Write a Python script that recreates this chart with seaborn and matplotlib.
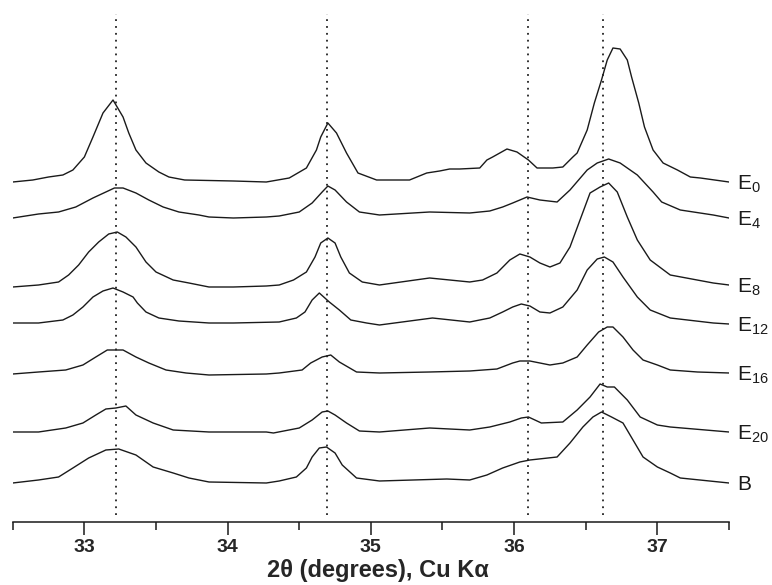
from __future__ import annotations

import matplotlib

matplotlib.use("Agg")
import matplotlib.pyplot as plt
import pandas as pd
import seaborn as sns

# 2-theta positions and intensities (a.u., curves already stacked)
e0_x = [32.50, 32.64, 32.75, 32.85, 32.92, 33.00, 33.06, 33.13, 33.20, 33.27, 33.31, 33.36, 33.43,
        33.52, 33.59, 33.70, 34.04, 34.27, 34.43, 34.55, 34.62, 34.65, 34.70, 34.73, 34.76, 34.83,
        34.91, 35.04, 35.27, 35.39, 35.48, 35.55, 35.62, 35.76, 35.81, 35.85, 35.95, 36.02, 36.10,
        36.16, 36.27, 36.34, 36.41, 36.44, 36.51, 36.56, 36.61, 36.65, 36.69, 36.74, 36.79, 36.82,
        36.87, 36.91, 36.97, 37.04, 37.14, 37.23, 37.30, 37.50]
e0_y = [340, 342, 345, 347, 352, 365, 385, 409, 422, 405, 389, 372, 359,
        350, 345, 342, 341, 340, 344, 354, 372, 385, 399, 394, 389, 369,
        349, 342, 342, 349, 351, 353, 353, 354, 362, 365, 373, 370, 362,
        354, 354, 355, 365, 369, 392, 419, 442, 462, 474, 473, 462, 445,
        419, 395, 372, 359, 352, 345, 344, 340]

e4_x = [32.50, 32.68, 32.82, 32.94, 33.06, 33.15, 33.21, 33.27, 33.36, 33.45, 33.55, 33.66, 33.80,
        33.87, 34.04, 34.27, 34.36, 34.50, 34.59, 34.66, 34.70, 34.75, 34.83, 34.92, 35.06, 35.41,
        35.69, 35.83, 35.92, 35.99, 36.09, 36.18, 36.30, 36.39, 36.51, 36.58, 36.66, 36.74, 36.86,
        36.97, 37.03, 37.16, 37.39, 37.50]
e4_y = [304, 308, 310, 315, 324, 330, 334, 334, 329, 322, 315, 310, 307,
        305, 304, 305, 306, 310, 319, 330, 336, 332, 320, 310, 307, 310,
        309, 311, 315, 319, 325, 322, 320, 332, 352, 359, 363, 359, 347,
        330, 320, 312, 307, 304]

e8_x = [32.50, 32.68, 32.82, 32.89, 32.96, 33.03, 33.10, 33.17, 33.23, 33.29, 33.36, 33.43, 33.50,
        33.62, 33.73, 33.87, 34.04, 34.27, 34.36, 34.46, 34.55, 34.61, 34.65, 34.70, 34.75, 34.79,
        34.85, 34.94, 35.06, 35.41, 35.69, 35.78, 35.88, 35.97, 36.04, 36.11, 36.18, 36.25, 36.32,
        36.39, 36.46, 36.53, 36.60, 36.66, 36.72, 36.79, 36.86, 36.95, 37.09, 37.39, 37.50]
e8_y = [235, 237, 240, 247, 257, 270, 280, 288, 290, 285, 275, 260, 250,
        242, 239, 235, 235, 236, 237, 242, 250, 265, 279, 284, 279, 265,
        249, 240, 237, 244, 240, 242, 249, 262, 268, 265, 259, 255, 259,
        275, 302, 329, 335, 339, 330, 305, 282, 262, 247, 239, 237]

e12_x = [32.50, 32.68, 32.85, 32.92, 32.99, 33.06, 33.13, 33.20, 33.27, 33.34, 33.37, 33.43, 33.52,
         33.66, 33.87, 34.04, 34.36, 34.48, 34.54, 34.59, 34.64, 34.71, 34.78, 34.86, 34.97, 35.06,
         35.43, 35.69, 35.83, 35.92, 35.99, 36.05, 36.11, 36.18, 36.25, 36.34, 36.44, 36.51, 36.58,
         36.63, 36.69, 36.76, 36.86, 36.95, 37.09, 37.39, 37.50]
e12_y = [199, 199, 202, 207, 215, 225, 231, 234, 230, 225, 219, 210, 204,
         201, 199, 199, 200, 204, 210, 222, 229, 220, 212, 202, 199, 197,
         204, 200, 204, 210, 215, 218, 216, 210, 209, 215, 232, 252, 263,
         265, 260, 245, 225, 212, 204, 199, 198]

e16_x = [32.50, 32.68, 32.87, 32.99, 33.08, 33.16, 33.27, 33.36, 33.45, 33.57, 33.71, 33.87, 34.27,
         34.36, 34.52, 34.58, 34.66, 34.72, 34.78, 34.90, 35.06, 35.41, 35.69, 35.88, 35.99, 36.04,
         36.11, 36.18, 36.25, 36.34, 36.44, 36.51, 36.59, 36.65, 36.69, 36.76, 36.83, 36.90, 37.00,
         37.09, 37.28, 37.50]
e16_y = [148, 150, 152, 157, 165, 172, 172, 165, 159, 152, 149, 147, 148,
         149, 152, 159, 165, 167, 160, 150, 149, 150, 151, 153, 159, 161,
         161, 159, 157, 159, 165, 177, 190, 195, 195, 185, 172, 162, 157,
         152, 150, 149]

e20_x = [32.50, 32.68, 32.87, 32.99, 33.08, 33.15, 33.22, 33.29, 33.36, 33.48, 33.62, 33.87, 34.27,
         34.32, 34.50, 34.59, 34.66, 34.70, 34.75, 34.83, 34.92, 35.06, 35.41, 35.69, 35.83, 35.97,
         36.05, 36.10, 36.19, 36.34, 36.44, 36.53, 36.60, 36.65, 36.70, 36.79, 36.88, 37.00, 37.09,
         37.50]
e20_y = [90, 90, 94, 99, 107, 113, 114, 116, 107, 99, 92, 90, 90,
         89, 94, 102, 110, 111, 107, 99, 91, 90, 94, 92, 95, 100,
         104, 105, 99, 100, 112, 125, 138, 135, 135, 122, 105, 97, 95,
         90]

b_x = [32.50, 32.68, 32.82, 32.92, 33.03, 33.15, 33.24, 33.36, 33.48, 33.62, 33.73, 33.87, 34.27,
       34.36, 34.48, 34.55, 34.59, 34.64, 34.69, 34.75, 34.80, 34.90, 35.06, 35.53, 35.69, 35.81,
       35.92, 36.04, 36.11, 36.30, 36.39, 36.48, 36.55, 36.61, 36.68, 36.76, 36.83, 36.90, 37.00,
       37.09, 37.16, 37.50]
b_y = [39, 42, 45, 54, 64, 72, 73, 67, 55, 49, 44, 40, 39,
       41, 45, 54, 65, 74, 75, 69, 57, 44, 41, 43, 42, 47,
       54, 60, 62, 65, 79, 95, 105, 110, 105, 99, 82, 65, 55,
       49, 44, 39]

sample_names = ["E0", "E4", "E8", "E12", "E16", "E20", "B"]
sample_labels = ["E$_{0}$", "E$_{4}$", "E$_{8}$", "E$_{12}$", "E$_{16}$", "E$_{20}$", "B"]
reference_lines = [33.22, 34.695, 36.10, 36.62]
major_ticks = [33, 34, 35, 36, 37]
minor_ticks = [32.5, 33.5, 34.5, 35.5, 36.5, 37.5]


def make_plot() -> None:
    sns.set_theme(style="white")
    plt.rcParams["font.family"] = ["Liberation Sans", "DejaVu Sans"]
    plt.rcParams["mathtext.fontset"] = "custom"
    plt.rcParams["mathtext.rm"] = "Liberation Sans"
    plt.rcParams["mathtext.it"] = "Liberation Sans:italic"

    xs = [e0_x, e4_x, e8_x, e12_x, e16_x, e20_x, b_x]
    ys = [e0_y, e4_y, e8_y, e12_y, e16_y, e20_y, b_y]
    frames = [pd.DataFrame({"two_theta": x, "intensity": y, "sample": name})
              for x, y, name in zip(xs, ys, sample_names)]
    df = pd.concat(frames, ignore_index=True)

    fig = plt.figure(figsize=(7.72, 5.85), dpi=100)
    ax = fig.add_axes([0.0165, 0.1077, 0.9278, 0.8923])

    sns.lineplot(
        data=df,
        x="two_theta",
        y="intensity",
        hue="sample",
        palette=["#1a1a1a"] * len(sample_names),
        linewidth=1.0,
        legend=False,
        sort=False,
        ax=ax,
    )

    ax.vlines(reference_lines, 7, 508, colors="#222222", linewidth=1.3,
              linestyles=(0, (1, 2.8)))

    for name, label in zip(sample_names, sample_labels):
        last = df[df["sample"] == name].iloc[-1]
        ax.annotate(label, xy=(last["two_theta"], last["intensity"]),
                    xytext=(6, -5.4), textcoords="offset points",
                    va="baseline", ha="left", fontsize=15, color="#1a1a1a",
                    annotation_clip=False)

    ax.set_xlim(32.5, 37.5)
    ax.set_ylim(0, 522)
    ax.set_xticks(major_ticks)
    ax.set_xticks(minor_ticks, minor=True)
    ax.set_yticks([])
    ax.tick_params(axis="x", which="major", direction="out", length=9.5, width=1.1,
                   bottom=True, labelsize=14, pad=3, color="#1a1a1a")
    ax.tick_params(axis="x", which="minor", direction="out", length=6, width=1.1,
                   bottom=True, color="#1a1a1a")
    for lbl in ax.get_xticklabels():
        lbl.set_fontweight("bold")

    for side in ["left", "right", "top"]:
        ax.spines[side].set_visible(False)
    ax.spines["bottom"].set_linewidth(1.1)
    ax.spines["bottom"].set_color("#1a1a1a")

    ax.set_xlabel("2θ (degrees), Cu Kα", fontsize=17, fontweight="bold")
    ax.xaxis.set_label_coords(0.51, -0.07)
    ax.set_ylabel("")

    plt.savefig("out.png", dpi=100)
    plt.close()


if __name__ == "__main__":
    make_plot()
